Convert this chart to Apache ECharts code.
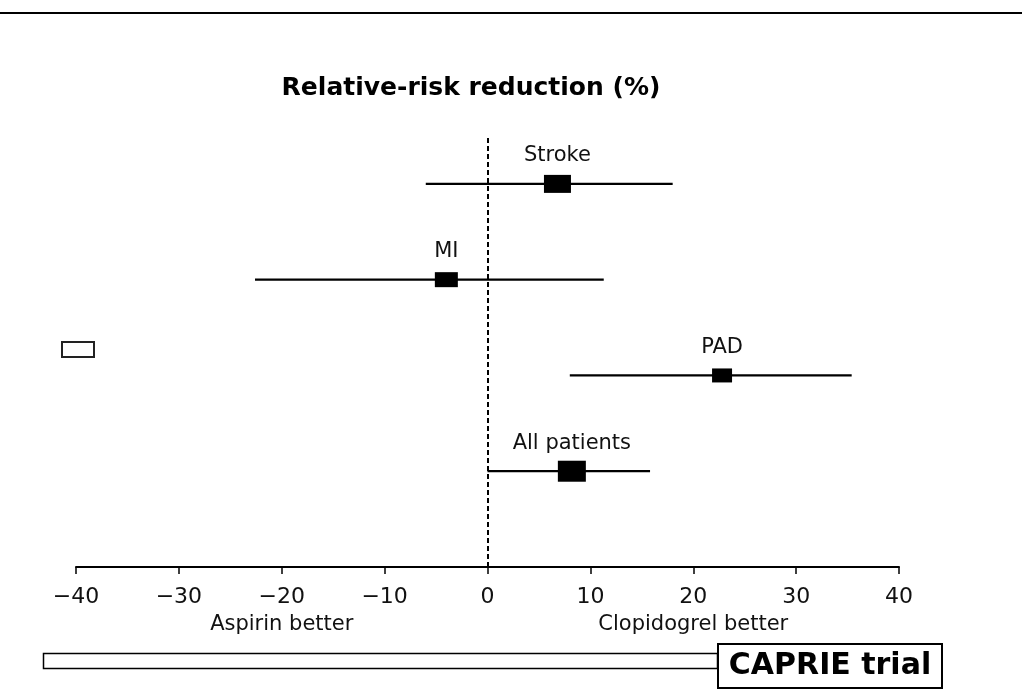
<!DOCTYPE html>
<html>
<head>
<meta charset="utf-8">
<script src="https://cdn.jsdelivr.net/npm/echarts@6/dist/echarts.min.js"></script>
<style>
html, body { margin: 0; padding: 0; background: #fff; }
#main { width: 1022px; height: 693px; }
</style>
</head>
<body>
<div id="main"></div>
<script>
// CAPRIE trial - relative-risk reduction, clopidogrel vs aspirin
var groups = ['All patients', 'PAD', 'MI', 'Stroke'];
var rrr = [8.2, 22.8, -4.0, 6.8];
var ciLow = [0.0, 8.0, -22.6, -6.0];
var ciHigh = [15.8, 35.4, 11.3, 18.0];
var xTicks = [-40, -30, -20, -10, 0, 10, 20, 30, 40];
var sideLabels = { '-20': 'Aspirin better', '20': 'Clopidogrel better' };

// box sizes (px) per row, same order as groups
var boxSize = [[28, 21], [20, 14], [23, 15], [27, 18]];

var font = '"DejaVu Sans", sans-serif';

var chart = echarts.init(document.getElementById('main'));

function renderItem(params, api) {
    var i = params.dataIndex;
    var row = api.value(0);
    var a = api.coord([api.value(2), row]);
    var b = api.coord([api.value(3), row]);
    var m = api.coord([api.value(1), row]);
    var s = boxSize[i];
    return {
        type: 'group',
        children: [
            { type: 'line', shape: { x1: a[0], y1: a[1], x2: b[0], y2: b[1] },
              style: { stroke: '#000', lineWidth: 2.2 } },
            { type: 'rect', shape: { x: m[0] - s[0] / 2, y: m[1] - s[1] / 2, width: s[0], height: s[1] },
              style: { fill: '#000' } },
            { type: 'text', x: m[0], y: m[1] - 28,
              style: { text: groups[i], fill: '#111', fontSize: 21, fontFamily: font,
                       align: 'center', verticalAlign: 'middle' } }
        ]
    };
}

var option = {
    animation: false,
    backgroundColor: '#fff',
    title: {
        text: 'Relative-risk reduction (%)',
        left: 466,
        top: 71,
        textAlign: 'center',
        textStyle: { fontFamily: font, fontSize: 25, fontWeight: 'bold', color: '#000' }
    },
    grid: { left: 76, right: 123, top: 136, bottom: 126 },
    xAxis: {
        type: 'value',
        min: xTicks[0],
        max: xTicks[xTicks.length - 1],
        interval: 10,
        splitLine: { show: false },
        axisLine: { lineStyle: { color: '#000', width: 2 } },
        axisTick: { length: 7, lineStyle: { color: '#000', width: 1.5 } },
        axisLabel: {
            margin: 17,
            color: '#111',
            fontFamily: font,
            fontSize: 22,
            lineHeight: 26,
            formatter: function (v) {
                var t = v < 0 ? '\u2212' + Math.abs(v) : String(v);
                if (sideLabels[v]) t += '\n{sub|' + sideLabels[v] + '}';
                return t;
            },
            rich: {
                sub: { fontFamily: font, fontSize: 21, lineHeight: 30, color: '#111' }
            }
        }
    },
    yAxis: {
        type: 'value',
        min: 0,
        max: 4.5,
        show: false
    },
    graphic: [
        { type: 'line', shape: { x1: 0, y1: 13, x2: 1022, y2: 13 }, style: { stroke: '#000', lineWidth: 2 } },
        { type: 'rect', shape: { x: 62, y: 342, width: 32, height: 15 }, style: { fill: '#fff', stroke: '#222', lineWidth: 2 } },
        { type: 'rect', shape: { x: 43.5, y: 653.5, width: 674, height: 15 }, style: { fill: '#fff', stroke: '#000', lineWidth: 1.5 } },
        { type: 'rect', shape: { x: 718, y: 644, width: 224, height: 44 }, style: { fill: '#fff', stroke: '#000', lineWidth: 2 } },
        { type: 'text', x: 830, y: 666,
          style: { text: 'CAPRIE trial', fill: '#000', fontFamily: font, fontSize: 30, fontWeight: 'bold',
                   align: 'center', verticalAlign: 'middle' } }
    ],
    series: [{
        type: 'custom',
        renderItem: renderItem,
        clip: false,
        encode: { x: [1, 2, 3], y: 0 },
        data: groups.map(function (g, i) {
            return [i + 1, rrr[i], ciLow[i], ciHigh[i]];
        }),
        markLine: {
            silent: true,
            symbol: 'none',
            label: { show: false },
            lineStyle: { color: '#000', width: 2, type: [5, 3] },
            data: [{ xAxis: 0 }]
        }
    }]
};

chart.setOption(option);
</script>
</body>
</html>
